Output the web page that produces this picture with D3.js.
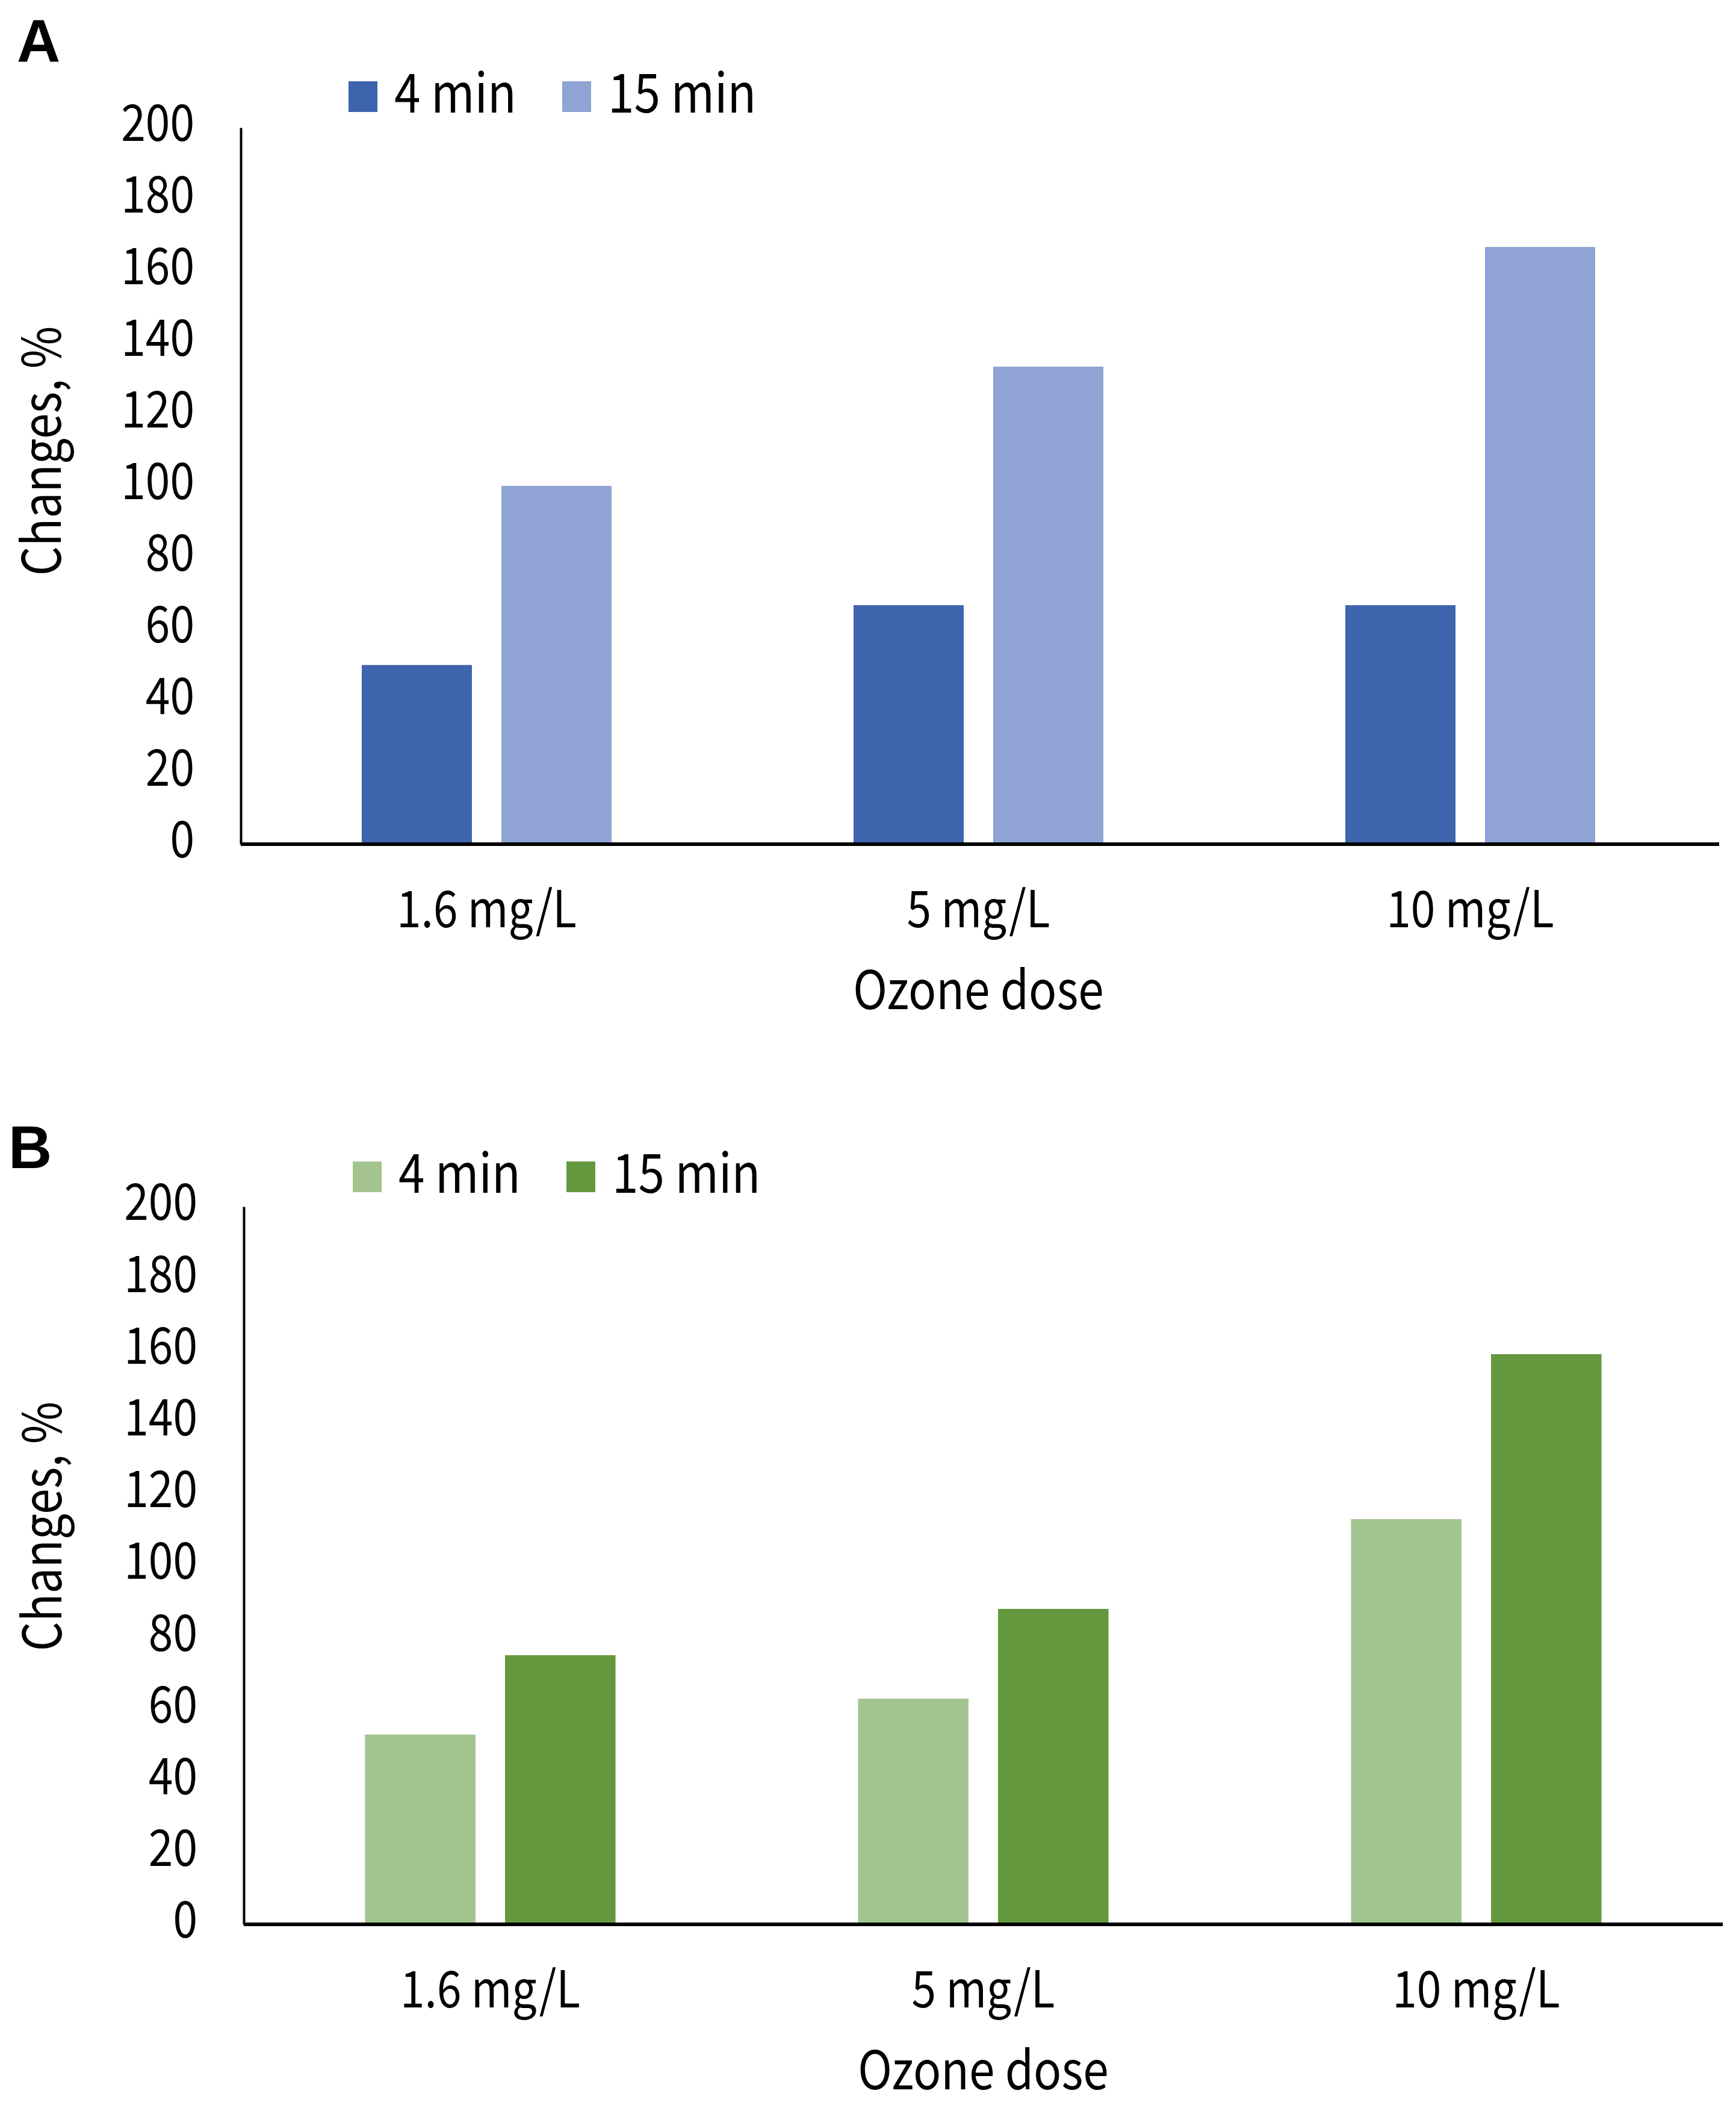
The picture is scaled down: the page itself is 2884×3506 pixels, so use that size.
<!DOCTYPE html>
<html>
<head>
<meta charset="utf-8">
<script src="https://cdn.jsdelivr.net/npm/d3@7"></script>
<style>
  html, body { margin: 0; padding: 0; background: #ffffff; }
  svg { display: block; }
  text { font-family: "Noto Sans CJK KR", "Liberation Sans", sans-serif; fill: #000; }
</style>
</head>
<body>
<script>
// ---- data ----
const categories = ["1.6 mg/L", "5 mg/L", "10 mg/L"];
const seriesNames = ["4 min", "15 min"];
const panelAFourMin = [50, 66.7, 66.7];
const panelAFifteenMin = [100, 133.3, 166.7];
const panelBFourMin = [52.9, 62.9, 112.9];
const panelBFifteenMin = [75.0, 87.9, 158.9];
const yTicks = [0, 20, 40, 60, 80, 100, 120, 140, 160, 180, 200];
const xTitle = "Ozone dose";
const yTitle = "Changes, %";

const W = 2884, H = 3506;
const FS = 84;
const SQUEEZE = 0.87;

const svg = d3.select("body").append("svg")
  .attr("width", W).attr("height", H)
  .attr("viewBox", `0 0 ${W} ${H}`);
svg.append("rect").attr("width", W).attr("height", H).attr("fill", "#fff");

function squeeze(sel) {
  sel.each(function () {
    const len = this.getComputedTextLength();
    d3.select(this).attr("textLength", len * SQUEEZE).attr("lengthAdjust", "spacingAndGlyphs");
  });
}

function drawPanel(opt) {
  const g = svg.append("g");
  const x0 = d3.scaleBand().domain(categories).range([opt.left, opt.right]);
  const x1 = d3.scaleBand().domain(seriesNames).range([0, x0.bandwidth()])
    .paddingInner(0.211).paddingOuter(0.866);
  const y = d3.scaleLinear().domain([0, 200]).range([opt.bottom, opt.top]);

  const rows = categories.map((c, i) => ({ cat: c, vals: [opt.s1[i], opt.s2[i]] }));

  // bars
  const grp = g.selectAll("g.cat").data(rows).join("g")
    .attr("class", "cat")
    .attr("transform", d => `translate(${x0(d.cat)},0)`);
  grp.selectAll("rect").data(d => d.vals.map((v, k) => ({ k, v }))).join("rect")
    .attr("x", d => x1(seriesNames[d.k]))
    .attr("width", x1.bandwidth())
    .attr("y", d => y(d.v))
    .attr("height", d => y(0) - y(d.v))
    .attr("fill", d => opt.colors[d.k]);

  // y axis
  const ya = g.append("g").attr("transform", `translate(${opt.left},0)`)
    .call(d3.axisLeft(y).tickValues(yTicks).tickSize(0).tickSizeOuter(0).tickPadding(77));
  ya.select(".domain").attr("stroke", "#000").attr("stroke-width", 4);
  ya.selectAll("text").attr("font-size", FS).attr("font-family", null).attr("dy", "0.26em")
    .call(squeeze);

  // x axis
  const xa = g.append("g").attr("transform", `translate(0,${opt.bottom})`)
    .call(d3.axisBottom(x0).tickSize(0).tickSizeOuter(0));
  xa.select(".domain").attr("stroke", "#000").attr("stroke-width", 6)
    .attr("d", `M${opt.left},0H${opt.axisEnd}`);
  xa.selectAll("text").attr("font-size", FS).attr("font-family", null)
    .attr("y", 138).attr("dy", 0).call(squeeze);

  // axis titles
  g.append("text").attr("x", (opt.left + opt.right) / 2).attr("y", opt.bottom + 274)
    .attr("text-anchor", "middle").attr("font-size", FS + 4).text(xTitle).call(squeeze);
  g.append("text")
    .attr("transform", `translate(${opt.yTitleX},${opt.yTitleY}) rotate(-90)`)
    .attr("text-anchor", "middle").attr("font-size", FS + 4).text(yTitle).call(squeeze);

  // panel letter
  g.append("text").attr("x", opt.letterX).attr("y", opt.letterY)
    .attr("font-size", 100).attr("font-weight", "bold")
    .style("font-family", "'Liberation Sans', Arial, sans-serif").text(opt.letter);

  // legend
  const lg = g.append("g");
  seriesNames.forEach((s, k) => {
    const lx = opt.legendX[k];
    lg.append("rect").attr("x", lx).attr("y", opt.legendY - 52)
      .attr("width", 48).attr("height", 51).attr("fill", opt.colors[k]);
    lg.append("text").attr("x", lx + 76).attr("y", opt.legendY)
      .attr("font-size", FS + 6).text(s).call(squeeze);
  });
}

drawPanel({
  left: 400, right: 2851, axisEnd: 2856, top: 212, bottom: 1402,
  s1: panelAFourMin, s2: panelAFifteenMin,
  colors: ["#3D64AC", "#8FA4D4"],
  letter: "A", letterX: 28, letterY: 103,
  legendX: [579, 934], legendY: 187,
  yTitleX: 101, yTitleY: 749
});

drawPanel({
  left: 405, right: 2862, axisEnd: 2862, top: 2004, bottom: 3196,
  s1: panelBFourMin, s2: panelBFifteenMin,
  colors: ["#A3C48F", "#64983F"],
  letter: "B", letterX: 14, letterY: 1940,
  legendX: [586, 941], legendY: 1981,
  yTitleX: 102, yTitleY: 2535
});
</script>
</body>
</html>
